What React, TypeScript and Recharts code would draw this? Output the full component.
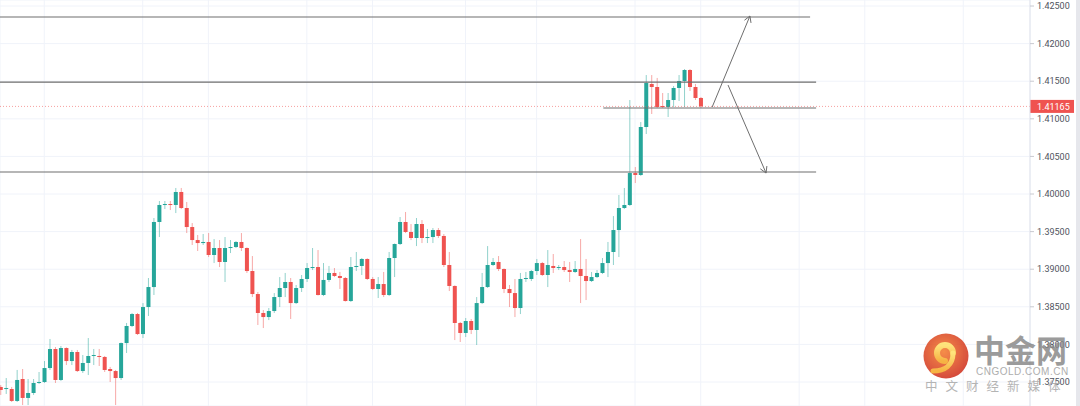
import { ComposedChart, Bar, XAxis, YAxis, CartesianGrid, ReferenceLine } from 'recharts';

// 4H candles (oldest first)
const opens = [
  1.37434, 1.37407, 1.37407, 1.37248, 1.3754, 1.37288, 1.37354, 1.37487, 1.375, 1.37686,
  1.37939, 1.37527, 1.37952, 1.37779, 1.37899, 1.37646, 1.37753, 1.37846, 1.37846, 1.37833,
  1.37673, 1.37646, 1.37553, 1.38018, 1.38245, 1.38404, 1.38138, 1.38497, 1.38763, 1.39628,
  1.39854, 1.39867, 1.39854, 1.40027, 1.39814, 1.39561, 1.39388, 1.39348, 1.39362, 1.39189,
  1.39282, 1.39096, 1.39282, 1.39295, 1.39362, 1.39282, 1.38976, 1.3867, 1.38418, 1.38364,
  1.38444, 1.3863, 1.3875, 1.3883, 1.3855, 1.3875, 1.3887, 1.39016, 1.39029, 1.38657,
  1.38857, 1.3895, 1.3891, 1.38883, 1.38577, 1.39029, 1.39043, 1.39136, 1.3887, 1.38737,
  1.38803, 1.38657, 1.39149, 1.39335, 1.39628, 1.39495, 1.39415, 1.39601, 1.39415, 1.39428,
  1.39521, 1.39442, 1.39056, 1.38777, 1.38285, 1.38152, 1.38311, 1.38192, 1.3855, 1.38763,
  1.39056, 1.39096, 1.39003, 1.38737, 1.38683, 1.38484, 1.3887, 1.3887, 1.38976, 1.39082,
  1.38923, 1.39043, 1.39016, 1.39029, 1.38989, 1.38963, 1.39003, 1.3891, 1.38843, 1.38896,
  1.3895, 1.39082, 1.39229, 1.39521, 1.39814, 1.39854, 1.40279, 1.40253, 1.40891, 1.41463,
  1.41423, 1.4117, 1.41157, 1.4125, 1.4141, 1.41503, 1.41649, 1.41423, 1.41277,
];
const highs = [
  1.3746, 1.37553, 1.37434, 1.3766, 1.37673, 1.3754, 1.3754, 1.37633, 1.37779, 1.38072,
  1.37965, 1.37979, 1.3796, 1.37926, 1.37926, 1.37859, 1.38085, 1.37939, 1.37939, 1.37846,
  1.377, 1.3766, 1.38025, 1.38285, 1.38418, 1.38418, 1.3855, 1.38883, 1.39681, 1.39907,
  1.39907, 1.39907, 1.4008, 1.4008, 1.39894, 1.39614, 1.39455, 1.39468, 1.39481, 1.39401,
  1.39388, 1.39428, 1.39388, 1.39375, 1.39481, 1.3929, 1.39175, 1.38697, 1.38457, 1.38484,
  1.38683, 1.38896, 1.3895, 1.38883, 1.3879, 1.38923, 1.39082, 1.39282, 1.39255, 1.39082,
  1.39043, 1.39016, 1.38963, 1.38896, 1.39162, 1.39229, 1.39149, 1.39145, 1.38896, 1.38896,
  1.38963, 1.39229, 1.39342, 1.39694, 1.39761, 1.39601, 1.39681, 1.39654, 1.39535, 1.39548,
  1.39548, 1.39468, 1.39229, 1.38785, 1.38298, 1.38351, 1.38338, 1.3863, 1.3895, 1.39308,
  1.39149, 1.39175, 1.3901, 1.3879, 1.3887, 1.3895, 1.38963, 1.38989, 1.39136, 1.39096,
  1.39255, 1.39202, 1.39056, 1.39109, 1.39096, 1.39109, 1.39401, 1.39136, 1.38963, 1.38989,
  1.39149, 1.39362, 1.39707, 1.39987, 1.4008, 1.4125, 1.40359, 1.40957, 1.41582, 1.41582,
  1.41543, 1.41343, 1.41343, 1.41436, 1.41582, 1.41662, 1.41662, 1.41463, 1.4129,
];
const lows = [
  1.37328, 1.37341, 1.37234, 1.37234, 1.37194, 1.37194, 1.37328, 1.37474, 1.37487, 1.3766,
  1.37487, 1.37513, 1.37726, 1.37726, 1.37633, 1.3762, 1.37593, 1.37726, 1.37713, 1.37633,
  1.375, 1.37194, 1.37527, 1.37886, 1.38231, 1.38125, 1.38085, 1.38378, 1.38657, 1.39428,
  1.398, 1.39787, 1.39747, 1.398, 1.39481, 1.39322, 1.39242, 1.39322, 1.39162, 1.39082,
  1.39029, 1.3883, 1.39215, 1.39282, 1.39242, 1.3895, 1.3863, 1.38258, 1.38218, 1.38324,
  1.38418, 1.38497, 1.3863, 1.38338, 1.38537, 1.38697, 1.3883, 1.38989, 1.3865, 1.38643,
  1.3883, 1.38896, 1.38737, 1.3857, 1.38564, 1.38976, 1.38923, 1.38857, 1.38723, 1.38617,
  1.3863, 1.38643, 1.38896, 1.39322, 1.39481, 1.39388, 1.39308, 1.39348, 1.39348, 1.39348,
  1.39415, 1.39029, 1.3871, 1.38058, 1.38032, 1.38098, 1.38138, 1.37992, 1.38537, 1.3875,
  1.39043, 1.38976, 1.38683, 1.38497, 1.38364, 1.38404, 1.3883, 1.38843, 1.38923, 1.3891,
  1.38763, 1.3895, 1.38989, 1.38963, 1.3883, 1.3895, 1.3855, 1.3859, 1.3883, 1.38883,
  1.38936, 1.38896, 1.39056, 1.39162, 1.398, 1.3984, 1.40146, 1.4024, 1.40798, 1.41064,
  1.41144, 1.41144, 1.41024, 1.41157, 1.41237, 1.41157, 1.4137, 1.4125, 1.41144,
];
const closes = [
  1.37394, 1.3742, 1.37248, 1.37527, 1.37288, 1.37354, 1.37487, 1.375, 1.37686, 1.37939,
  1.37527, 1.37952, 1.37779, 1.37899, 1.37646, 1.37753, 1.37846, 1.37859, 1.37833, 1.3766,
  1.37646, 1.37553, 1.38018, 1.38245, 1.38404, 1.38138, 1.38497, 1.38763, 1.39628, 1.39854,
  1.39867, 1.39854, 1.40027, 1.39814, 1.39561, 1.39388, 1.39348, 1.39362, 1.39189, 1.39282,
  1.39096, 1.39282, 1.39295, 1.39362, 1.39282, 1.38976, 1.3867, 1.38418, 1.38364, 1.38444,
  1.3863, 1.3875, 1.3883, 1.3855, 1.3875, 1.3887, 1.39016, 1.39029, 1.38657, 1.38857,
  1.3895, 1.3891, 1.38883, 1.38577, 1.39029, 1.39043, 1.39136, 1.3887, 1.38737, 1.38803,
  1.38657, 1.39149, 1.39335, 1.39628, 1.39495, 1.39415, 1.39601, 1.39415, 1.39428, 1.39521,
  1.39442, 1.39056, 1.38777, 1.38285, 1.38152, 1.38311, 1.38192, 1.3855, 1.38763, 1.39056,
  1.39096, 1.39003, 1.38737, 1.38683, 1.38484, 1.3887, 1.38883, 1.38976, 1.39082, 1.38923,
  1.39056, 1.39016, 1.39029, 1.38989, 1.38963, 1.39003, 1.3891, 1.38843, 1.38896, 1.3895,
  1.39082, 1.39229, 1.39521, 1.39814, 1.39854, 1.40279, 1.40253, 1.40891, 1.41476, 1.41423,
  1.41157, 1.41157, 1.4125, 1.4141, 1.41503, 1.41649, 1.41423, 1.41277, 1.41165,
];

const priceTicks = [1.375, 1.38, 1.385, 1.39, 1.395, 1.4, 1.405, 1.41, 1.415, 1.42, 1.425];
const dayTicks = [8, 26, 38, 56, 68, 85, 98, 116, 128, 146, 158, 176];
const lastPrice = 1.41165;

// hand-drawn levels: [from bar, to bar, price]
const levels = [
  [-0.09, 148, 1.42354],
  [-0.09, 149.1, 1.41489],
  [110.2, 149.1, 1.41144],
  [-0.09, 149.1, 1.40293],
];

// arrows + heads: [bar1, price1, bar2, price2]
const arrows = [
  [130.1, 1.41157, 137.0, 1.42367],
  [136.0, 1.42311, 137.0, 1.42367],
  [137.2, 1.42275, 137.0, 1.42367],
  [133.0, 1.41449, 139.95, 1.40279],
  [140.1, 1.40372, 139.95, 1.40279],
  [138.9, 1.40335, 139.95, 1.40279],
];

const UP = '#26a69a';
const DOWN = '#ef5350';

const candles = opens.map((o, i) => ({ i, o, h: highs[i], l: lows[i], c: closes[i] }));

const Candle = (props: any) => {
  const { x, y, width, height } = props;
  const d = props.payload ?? props;
  if (x == null || y == null) return null;
  const top = Math.min(y, y + height);
  const span = Math.abs(height) || 1;
  const toY = (p: number) => top + ((d.h - p) / (d.h - d.l)) * span;
  const color = d.c >= d.o ? UP : DOWN;
  const yo = toY(d.o);
  const yc = toY(d.c);
  const cx = x + width / 2;
  return (
    <g>
      <line x1={cx} x2={cx} y1={top} y2={top + span} stroke={color} strokeOpacity={0.5} />
      <rect x={x} y={Math.min(yo, yc)} width={width} height={Math.max(1, Math.abs(yo - yc))} fill={color} />
    </g>
  );
};

const PriceTag = (props: any) => {
  const vb = props.viewBox;
  if (!vb) return null;
  const x = vb.x + vb.width;
  const y = vb.y;
  return (
    <g>
      <rect x={x} y={y - 6.5} width={44} height={13} fill={DOWN} />
      <text x={x + 7} y={y} dy="0.35em" fill="#fff" fontSize={9} fontFamily="Roboto">
        {lastPrice.toFixed(5)}
      </text>
    </g>
  );
};

const Logo = () => (
  <svg width={48} height={48} style={{ position: 'absolute', left: 922, top: 332 }}>
    <defs>
      <radialGradient id="lg" cx="45%" cy="40%" r="60%">
        <stop offset="0%" stopColor="#f47a2a" />
        <stop offset="100%" stopColor="#cf2c1a" />
      </radialGradient>
      <linearGradient id="yg" x1="0" y1="0" x2="0" y2="1">
        <stop offset="0%" stopColor="#ffe066" />
        <stop offset="100%" stopColor="#f5a623" />
      </linearGradient>
    </defs>
    <circle cx={24} cy={24} r={22.5} fill="url(#lg)" />
    <path d="M31 21 A8 8 0 1 0 23 29" fill="none" stroke="url(#yg)" strokeWidth={6} strokeLinecap="round" />
    <path d="M31 21 C31 33 23 39 11 39" fill="none" stroke="url(#yg)" strokeWidth={5} strokeLinecap="round" />
  </svg>
);

export default function App() {
  return (
    <div style={{ position: 'fixed', left: 0, top: 0, width: 1080, height: 406, background: '#fff' }}>
      <ComposedChart width={1080} height={406} data={candles} margin={{ top: 0, right: 0, bottom: 0, left: 0 }}>
        <CartesianGrid stroke="#f0f3fa" />
        <XAxis dataKey="i" type="number" domain={[-0.09, 188.2]} ticks={dayTicks} allowDataOverflow hide />
        <YAxis
          orientation="right"
          domain={[1.37181, 1.4258]}
          ticks={priceTicks}
          allowDataOverflow
          interval={0}
          width={50}
          tickSize={4}
          tickMargin={3}
          tickFormatter={(v: number) => v.toFixed(5)}
          tick={{ fontSize: 9, fill: '#50535e', fontFamily: 'Roboto' }}
          axisLine={{ stroke: '#e0e3eb' }}
          tickLine={{ stroke: '#c8cad0' }}
        />
        <Bar dataKey={(d: any) => [d.l, d.h]} barSize={4} shape={<Candle />} isAnimationActive={false} />
        <ReferenceLine
          y={lastPrice}
          stroke={DOWN}
          strokeOpacity={0.55}
          strokeDasharray="1 2"
          ifOverflow="visible"
          label={<PriceTag />}
        />
        {levels.map(([a, b, p], k) => (
          <ReferenceLine
            key={`lv-${k}`}
            segment={[{ x: a, y: p }, { x: b, y: p }]}
            stroke="#6e6e6e"
            strokeWidth={1.2}
            ifOverflow="visible"
          />
        ))}
        {arrows.map(([a, p, b, q], k) => (
          <ReferenceLine
            key={`ar-${k}`}
            segment={[{ x: a, y: p }, { x: b, y: q }]}
            stroke="#6e6e6e"
            strokeWidth={1}
            ifOverflow="visible"
          />
        ))}
      </ComposedChart>
      <div style={{ position: 'absolute', left: 1076, top: 0, width: 4, height: 406, background: '#e6e7ec' }} />
      <div style={{ opacity: 0.85 }}>
        <Logo />
        <div
          style={{
            position: 'absolute', left: 974, top: 333, fontSize: 31, lineHeight: 1, fontWeight: 700,
            color: '#8a8a8a', fontFamily: '"Noto Sans CJK SC"',
          }}
        >
          中金网
        </div>
        <div
          style={{
            position: 'absolute', left: 976, top: 367, fontSize: 10, lineHeight: 1, letterSpacing: 0.5,
            color: '#a0a0a0', fontFamily: '"Liberation Sans"',
          }}
        >
          CNGOLD.COM.CN
        </div>
        <div
          style={{
            position: 'absolute', left: 925, top: 380, fontSize: 12.5, lineHeight: 1, letterSpacing: 8,
            color: '#a8a8a8', fontFamily: '"Noto Sans CJK SC"', whiteSpace: 'nowrap',
          }}
        >
          中文财经新媒体
        </div>
      </div>
    </div>
  );
}
